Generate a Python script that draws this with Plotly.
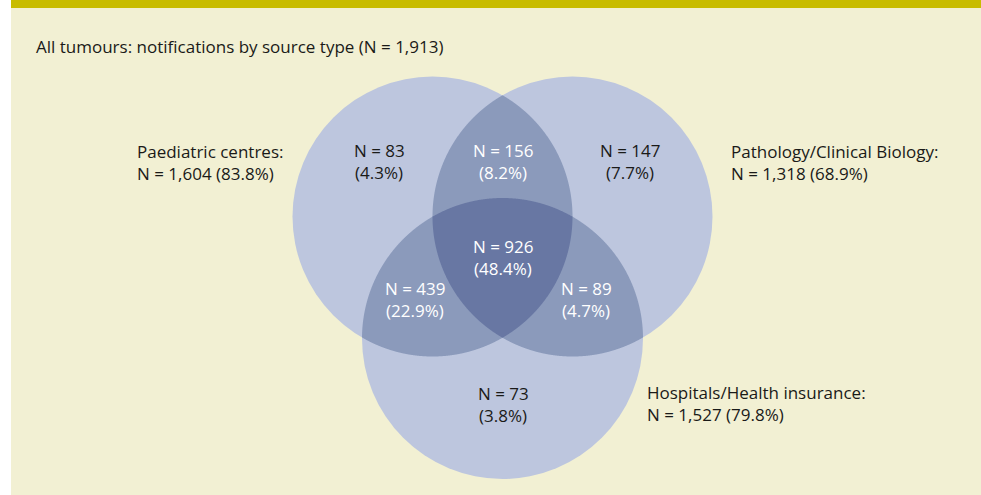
import numpy as np
import plotly.graph_objects as go

# ---------------- data ----------------
total_n = 1913
set_names = ["Paediatric centres", "Pathology/Clinical Biology", "Hospitals/Health insurance"]
set_totals = [1604, 1318, 1527]
# region membership (P=paediatric, L=pathology, H=hospitals)
region_keys = ["P", "PL", "L", "PLH", "PH", "LH", "H"]
region_counts = [83, 156, 147, 926, 439, 89, 73]
title_text = "All tumours: notifications by source type (N = 1,913)"

# ---------------- layout constants ----------------
W, H = 981, 495
FONT = "Open Sans"
FS = 17
BG = "#f2f0d3"
BANNER = "#c8bc00"
C1, C2, C3 = "#bdc6de", "#8b9abb", "#6877a3"
DARK, LIGHT = "#1a1a18", "#ffffff"

circles = {"P": (432.5, 216.5, 140.0), "L": (572.5, 216.5, 140.0), "H": (502.5, 338.5, 140.5)}

region_pos = {"P": (379, 150), "PL": (503, 150), "L": (630, 150), "PLH": (503, 246),
              "PH": (415, 288), "LH": (586, 288), "H": (503, 393)}
set_label_pos = [(135, 151, "left"), (729, 151, "left"), (645, 392, "left")]
LINE = 22


def region_path(keys):
    pts = []
    for k in keys:
        cx, cy, r = circles[k]
        t = np.linspace(0, 2 * np.pi, 3000, endpoint=False)
        x, y = cx + r * np.cos(t), cy + r * np.sin(t)
        ok = np.ones_like(x, dtype=bool)
        for o in keys:
            if o == k:
                continue
            ox, oy, orad = circles[o]
            ok &= (x - ox) ** 2 + (y - oy) ** 2 <= orad ** 2 + 1e-6
        pts.append(np.column_stack([x[ok], y[ok]]))
    pts = np.vstack(pts)
    c = pts.mean(axis=0)
    ang = np.arctan2(pts[:, 1] - c[1], pts[:, 0] - c[0])
    pts = pts[np.argsort(ang)]
    return "M " + " L ".join(f"{px:.2f},{py:.2f}" for px, py in pts) + " Z"


shapes = [
    dict(type="rect", xref="x", yref="y", x0=11, x1=W + 5, y0=8, y1=H + 5, fillcolor=BG, line_width=0, layer="below"),
    dict(type="rect", xref="x", yref="y", x0=11, x1=W + 5, y0=-5, y1=8, fillcolor=BANNER, line_width=0, layer="below"),
]
for k, (cx, cy, r) in circles.items():
    shapes.append(dict(type="circle", xref="x", yref="y", x0=cx - r, x1=cx + r, y0=cy - r, y1=cy + r,
                       fillcolor=C1, line_width=0))
for pair in (["P", "L"], ["P", "H"], ["L", "H"]):
    shapes.append(dict(type="path", xref="x", yref="y", path=region_path(pair), fillcolor=C2, line_width=0))
shapes.append(dict(type="path", xref="x", yref="y", path=region_path(["P", "L", "H"]), fillcolor=C3, line_width=0))

annotations = [dict(x=34, y=46, xref="x", yref="y", text=title_text, showarrow=False, xanchor="left",
                    yanchor="middle", font=dict(family=FONT, size=FS, color=DARK))]

for key, n in zip(region_keys, region_counts):
    x, y = region_pos[key]
    col = LIGHT if len(key) > 1 else DARK
    pct = n / total_n * 100
    for i, line in enumerate([f"N = {n:,}", f"({pct:.1f}%)"]):
        annotations.append(dict(x=x, y=y + i * LINE, xref="x", yref="y", text=line, showarrow=False,
                                xanchor="center", yanchor="middle", font=dict(family=FONT, size=FS, color=col)))

for name, tot, (x, y, anc) in zip(set_names, set_totals, set_label_pos):
    pct = tot / total_n * 100
    for i, line in enumerate([f"{name}:", f"N = {tot:,} ({pct:.1f}%)"]):
        annotations.append(dict(x=x, y=y + i * LINE, xref="x", yref="y", text=line, showarrow=False,
                                xanchor=anc, yanchor="middle", font=dict(family=FONT, size=FS, color=DARK)))

fig = go.Figure()
fig.update_layout(
    width=W, height=H, margin=dict(l=0, r=0, t=0, b=0),
    paper_bgcolor="white", plot_bgcolor="white",
    xaxis=dict(range=[0, W], visible=False, fixedrange=True),
    yaxis=dict(range=[H, 0], visible=False, fixedrange=True),
    shapes=shapes, annotations=annotations, showlegend=False,
)
fig.write_html("out.html", config={"displayModeBar": False},
               post_script="document.body.style.margin='0';document.body.style.overflow='hidden';"
                           "document.documentElement.style.overflow='hidden';"
                           "document.body.style.background='" + BG + "';"
                           "document.documentElement.style.background='" + BG + "';")
